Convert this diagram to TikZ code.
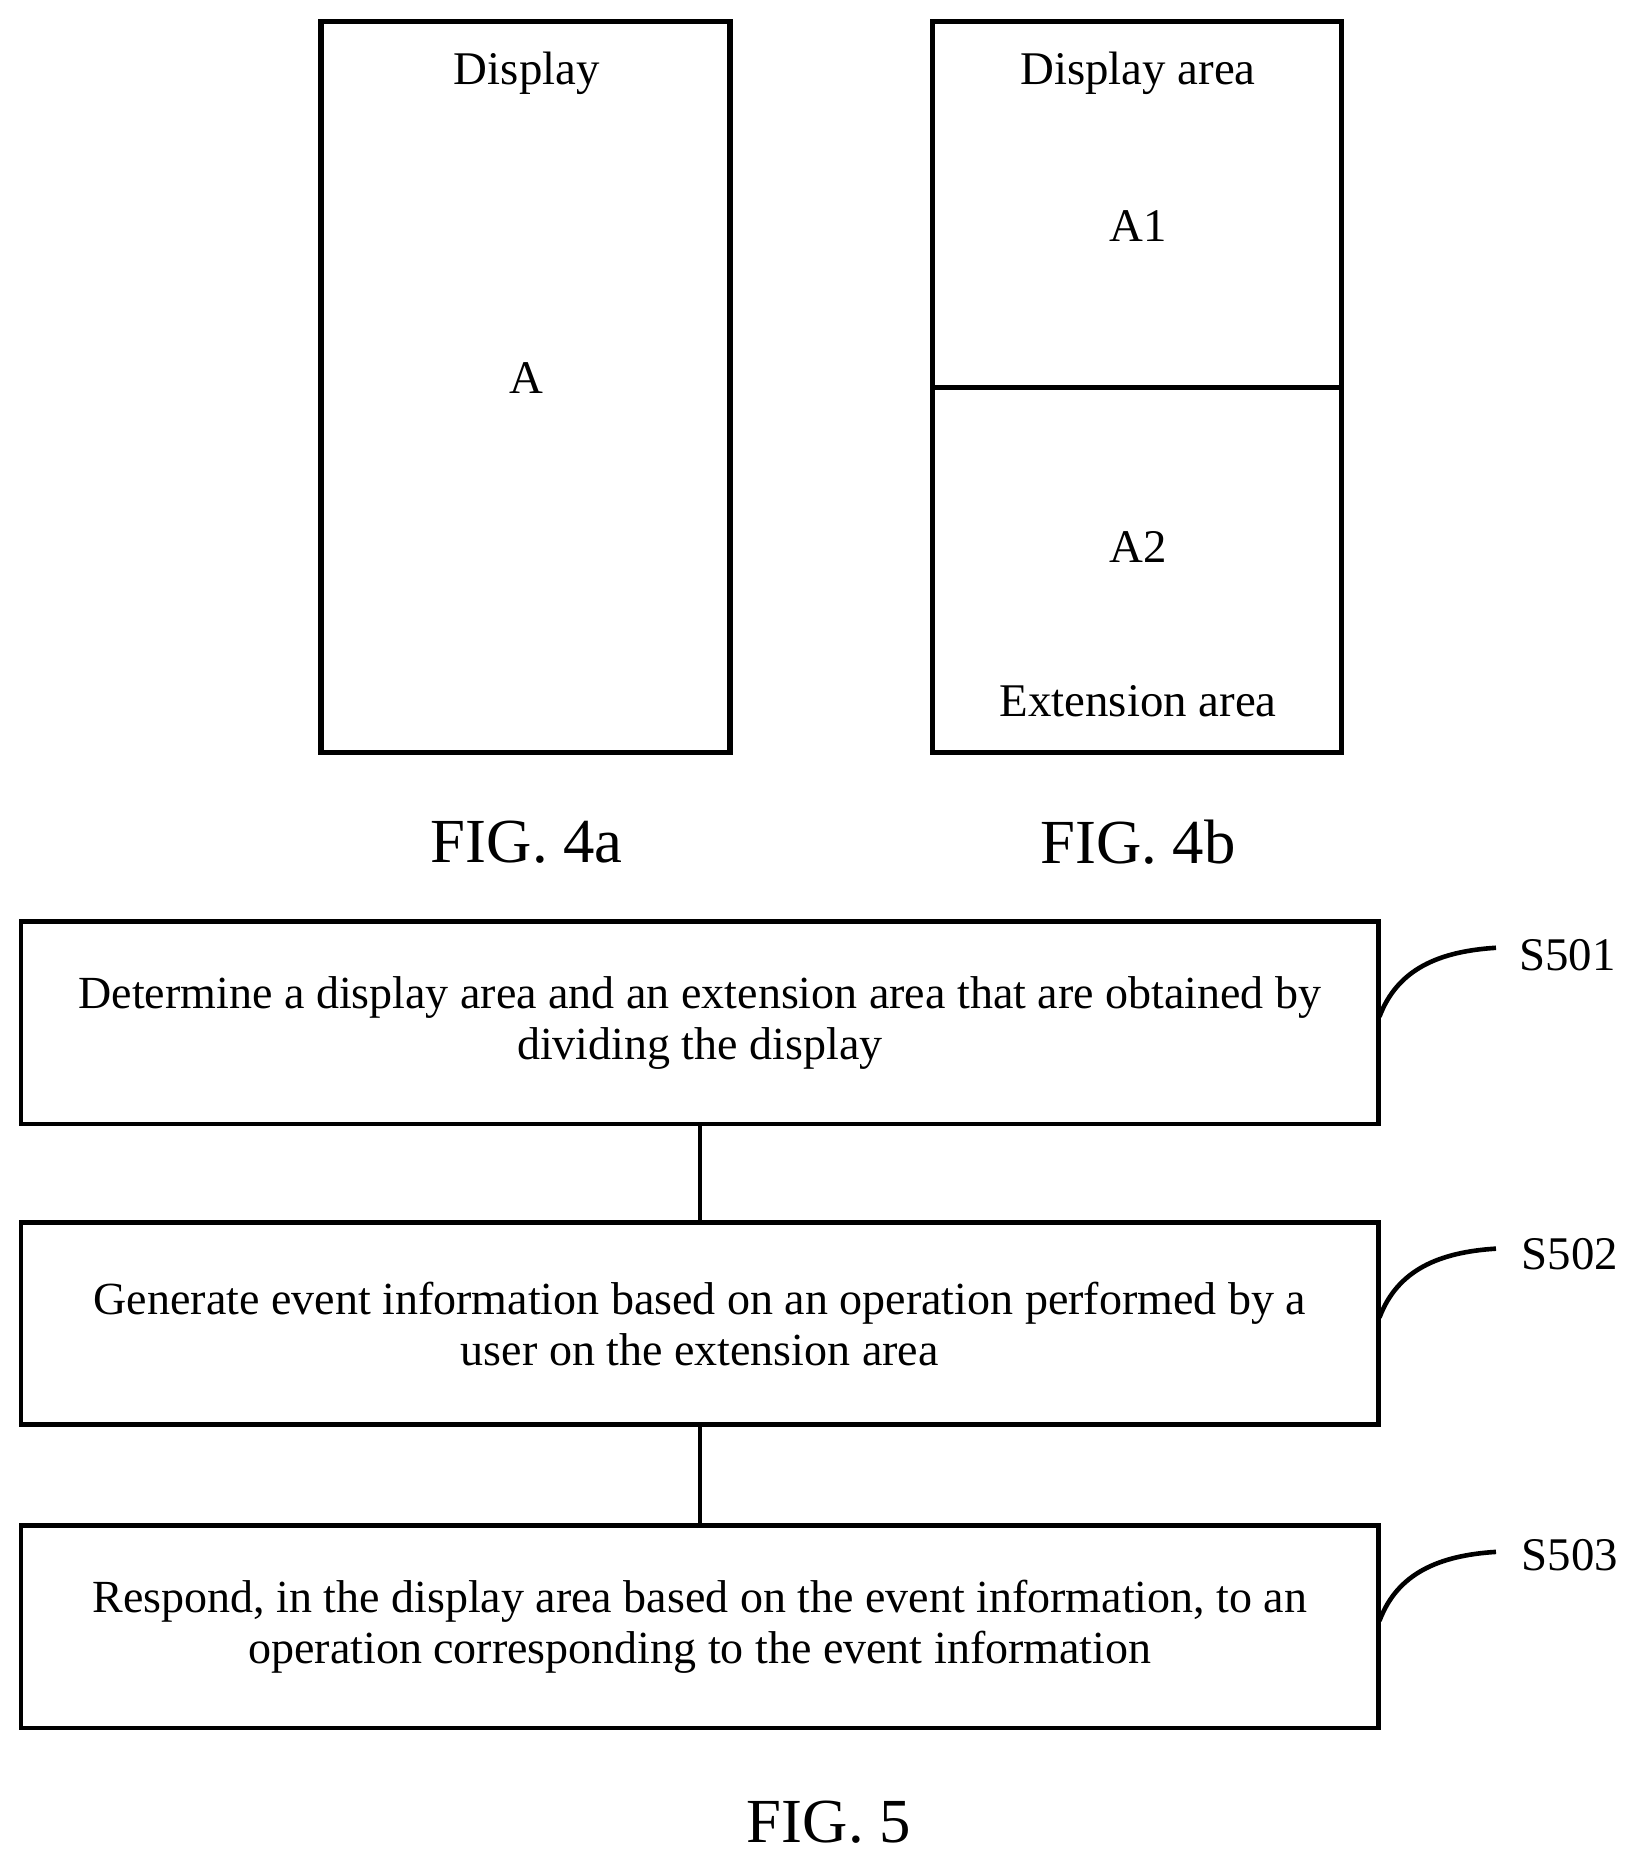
\documentclass[tikz,border=0pt]{standalone}
\usepackage{fontspec}
\setmainfont{Liberation Serif}
\begin{document}
\begin{tikzpicture}[x=0.01cm,y=-0.01cm,
  box/.style={draw,line width=1.3pt},
  lbl/.style={font=\fontsize{11.2}{14}\selectfont},
  fig/.style={font=\fontsize{15}{18}\selectfont},
  stepbox/.style={draw,line width=1.1pt,minimum width=11.41cm,minimum height=1.7cm,align=center,font=\fontsize{11}{12.2}\selectfont,inner sep=0pt},
  conn/.style={line width=1.1pt}]
\useasboundingbox (0,0) rectangle (1378,1570);
\draw[box] (270,18) rectangle (614,633);
\draw[box] (784,18) rectangle (1128,633);
\draw[box] (784,326) -- (1128,326);
\node[lbl] (d) at (443,62) {Display};
\node[lbl] (a) at (443,318) {A};
\node[lbl] (da) at (957,62) {Display area};
\node[lbl] (a1) at (957,190) {A1};
\node[lbl] (a2) at (957,460) {A2};
\node[lbl] (ea) at (957,590) {Extension area};
\node[fig] (f4a) at (443,708) {FIG. 4a};
\node[fig] (f4b) at (957,708) {FIG. 4b};
\node[stepbox] (s1) at (588.5,860) {Determine a display area and an extension area that are obtained by\\dividing the display};
\node[stepbox] (s2) at (588.5,1113) {Generate event information based on an operation performed by a\\user on the extension area};
\node[stepbox] (s3) at (588.5,1368) {Respond, in the display area based on the event information, to an\\operation corresponding to the event information};
\draw[conn] (s1) -- (s2);
\draw[conn] (s2) -- (s3);
\node[lbl] (l1) at (1318,803) {S501};
\node[lbl] (l2) at (1320,1055) {S502};
\node[lbl] (l3) at (1320,1308) {S503};
\foreach \y in {855,1108,1363}{
  \draw[conn] (1160,\y) .. controls (1175,\y-40) and (1210,\y-55) .. (1258,\y-58);
}
\node[fig] (f5) at (697,1532) {FIG. 5};
\end{tikzpicture}
\end{document}
